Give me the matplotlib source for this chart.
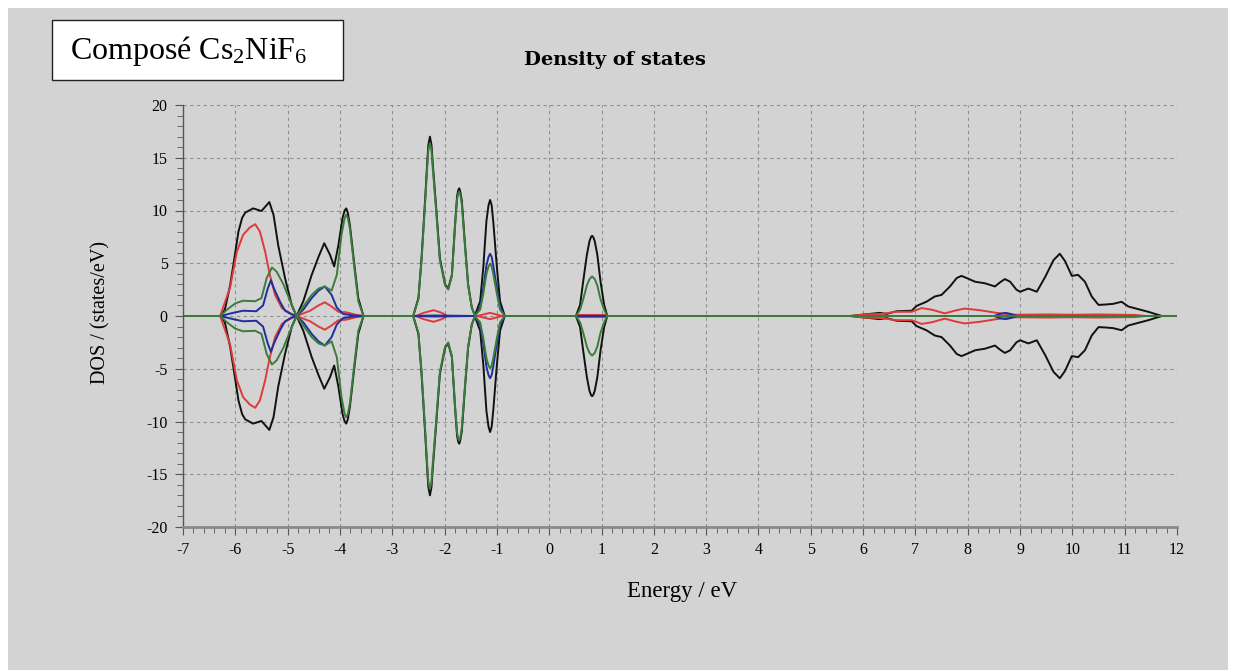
"""Densité d'états de Cs2NiF6 (spin up / spin down)"""
import matplotlib
matplotlib.use("Agg")
import matplotlib.pyplot as plt
import matplotlib.patches as mpatches
from matplotlib.ticker import MultipleLocator
import numpy as np

plt.rcParams["font.family"] = ["Liberation Serif", "DejaVu Serif"]
plt.rcParams["axes.unicode_minus"] = False
plt.rcParams["mathtext.fontset"] = "custom"
plt.rcParams["mathtext.rm"] = "Liberation Serif"
plt.rcParams["mathtext.it"] = "Liberation Serif:italic"
plt.rcParams["mathtext.bf"] = "Liberation Serif:bold"

W, H = 1235, 670

# ============================================================
# Données (spin up ; le spin down est le miroir)
# ============================================================
E_tot = [-7.0, -6.29, -6.20, -6.10, -6.02, -5.94, -5.87, -5.81, -5.66, -5.50, -5.42,
         -5.35, -5.27, -5.18, -5.05, -4.92, -4.83, -4.70, -4.54, -4.41, -4.30, -4.19,
         -4.11, -4.03, -3.95, -3.91, -3.88, -3.85, -3.81, -3.73, -3.65, -3.55, -2.60,
         -2.50, -2.44, -2.37, -2.33, -2.31, -2.28, -2.25, -2.23, -2.16, -2.09, -1.99,
         -1.93, -1.86, -1.80, -1.76, -1.74, -1.72, -1.70, -1.67, -1.61, -1.55, -1.48,
         -1.42, -1.32, -1.26, -1.20, -1.16, -1.13, -1.10, -1.07, -1.00, -0.94, -0.85,
         0.51, 0.59, 0.65, 0.72, 0.77, 0.80, 0.82, 0.84, 0.87, 0.92, 0.98, 1.05, 1.11,
         5.75, 6.13, 6.32, 6.45, 6.64, 6.93, 7.02, 7.21, 7.37, 7.50, 7.66, 7.79, 7.88,
         7.98, 8.14, 8.33, 8.52, 8.62, 8.71, 8.81, 8.93, 9.00, 9.16, 9.32, 9.48, 9.64,
         9.76, 9.86, 9.99, 10.11, 10.24, 10.37, 10.50, 10.66, 10.78, 10.94, 11.07,
         11.26, 11.45, 11.71, 12.0]
dos_tot = [0, 0, 0.6, 2.9, 5.4, 8.0, 9.3, 9.8, 10.2, 9.95, 10.4,
           10.8, 9.6, 6.7, 3.6, 1.0, 0, 1.4, 3.9, 5.6, 6.9, 5.8,
           4.7, 6.7, 9.3, 10.0, 10.2, 9.8, 8.6, 5.1, 1.7, 0, 0,
           1.7, 5.5, 11.2, 14.7, 16.2, 17.0, 16.2, 14.7, 10.2, 5.5, 3.0,
           2.6, 3.9, 8.7, 11.4, 11.9, 12.1, 11.8, 10.9, 6.8, 3.0, 0.8,
           0.05, 1.4, 4.6, 9.0, 10.5, 11.0, 10.5, 9.0, 4.6, 1.4, 0,
           0, 1.05, 3.3, 5.8, 7.1, 7.5, 7.6, 7.5, 7.1, 5.8, 3.3, 1.05, 0,
           0, 0.2, 0.3, 0.2, 0.45, 0.5, 0.95, 1.35, 1.85, 2.0, 2.8, 3.6, 3.8,
           3.6, 3.25, 3.1, 2.8, 3.2, 3.5, 3.25, 2.5, 2.3, 2.6, 2.3, 3.7, 5.3,
           5.9, 5.2, 3.8, 3.9, 3.25, 1.85, 1.05, 1.1, 1.15, 1.35, 0.9,
           0.65, 0.4, 0, 0]

E_red = [-7.0, -6.29, -6.10, -5.97, -5.85, -5.72, -5.62, -5.53, -5.43, -5.34, -5.24,
         -5.11, -4.95, -4.83, -4.57, -4.41, -4.29, -4.16, -4.03, -3.88, -3.68, -3.55,
         -2.55, -2.40, -2.21, -2.05, -1.95, -1.38, -1.13, -0.90, 0.51, 0.55, 1.08,
         1.11, 5.80, 6.00, 6.35, 6.64, 6.93, 7.12, 7.31, 7.56, 7.79, 7.94, 8.23,
         8.55, 8.87, 9.50, 10.0, 10.5, 11.2, 11.4, 12.0]
dos_red = [0, 0, 2.7, 6.1, 7.7, 8.4, 8.7, 8.0, 6.1, 3.9, 2.0,
           0.75, 0.25, 0, 0.5, 1.0, 1.3, 0.9, 0.4, 0.35, 0.1, 0,
           0, 0.3, 0.55, 0.3, 0, 0, 0.3, 0, 0, 0.1, 0.1,
           0, 0, 0.15, 0.2, 0.4, 0.4, 0.75, 0.6, 0.25, 0.55, 0.7, 0.55,
           0.3, 0.12, 0.15, 0.12, 0.15, 0.1, 0, 0]

E_blue = [-7.0, -6.29, -6.04, -5.85, -5.60, -5.47, -5.38, -5.32, -5.26, -5.15, -5.05,
          -4.92, -4.83, -4.70, -4.54, -4.41, -4.29, -4.16, -4.06, -3.94, -3.75, -3.55,
          -2.60, -2.20, -1.42, -1.32, -1.26, -1.20, -1.16, -1.13, -1.10, -1.07, -1.00,
          -0.94, -0.85, 8.50, 8.62, 8.72, 8.82, 8.95, 12.0]
dos_blue = [0, 0, 0.3, 0.5, 0.45, 1.0, 2.6, 3.4, 2.6, 1.4, 0.5,
            0.15, 0, 0.6, 1.7, 2.4, 2.8, 2.0, 0.8, 0.2, 0.05, 0,
            0, 0.05, 0, 0.8, 2.6, 4.8, 5.6, 5.9, 5.6, 4.8, 2.6,
            0.8, 0, 0, 0.2, 0.3, 0.2, 0, 0]

E_green = [-7.0, -6.29, -6.16, -6.00, -5.85, -5.62, -5.50, -5.40, -5.30, -5.21, -5.08,
           -4.95, -4.83, -4.70, -4.54, -4.41, -4.29, -4.16, -4.06, -3.97, -3.91, -3.88,
           -3.85, -3.81, -3.73, -3.65, -3.55, -2.60, -2.50, -2.44, -2.37, -2.33, -2.31,
           -2.28, -2.25, -2.23, -2.16, -2.09, -1.99, -1.93, -1.86, -1.80, -1.76, -1.74,
           -1.72, -1.70, -1.67, -1.61, -1.55, -1.48, -1.42, -1.32, -1.26, -1.20, -1.16,
           -1.13, -1.10, -1.07, -1.00, -0.94, -0.85, 0.51, 0.59, 0.65, 0.72, 0.77, 0.82,
           0.87, 0.92, 0.98, 1.05, 1.11, 12.0]
dos_green = [0, 0, 0.6, 1.2, 1.45, 1.4, 1.7, 3.6, 4.6, 4.2, 3.0,
             1.4, 0, 0.9, 2.0, 2.6, 2.8, 2.4, 3.9, 7.7, 9.3, 9.6,
             9.3, 8.3, 4.8, 1.4, 0, 0, 1.6, 5.3, 10.9, 14.3, 15.7,
             16.4, 15.7, 14.3, 9.9, 5.3, 2.9, 2.5, 3.8, 8.5, 11.1, 11.6,
             11.8, 11.5, 10.6, 6.6, 2.9, 0.8, 0.05, 0.6, 2.1, 4.0, 4.7,
             4.95, 4.7, 4.0, 2.1, 0.6, 0, 0, 0.6, 1.6, 2.9, 3.5, 3.75,
             3.5, 2.9, 1.6, 0.6, 0, 0]

x_ticks = list(range(-7, 13))
y_ticks = list(range(-20, 21, 5))

COLOR_BG = "#d3d3d3"
series = [
    (E_tot, dos_tot, "#111111"),
    (E_red, dos_red, "#dd3a3a"),
    (E_blue, dos_blue, "#1f2f9e"),
    (E_green, dos_green, "#3b7b3b"),
]

# ============================================================
# Figure
# ============================================================
fig = plt.figure(figsize=(W / 100, H / 100), dpi=100, facecolor="white")


def fx(px):
    return px / W


def fy(py):
    return 1 - py / H


# fond gris (derrière tout)
fig.patches.append(mpatches.Rectangle((fx(8), 0), fx(1228) - fx(8), fy(8),
                                      transform=fig.transFigure, facecolor=COLOR_BG,
                                      edgecolor="none", zorder=-10))

ax = fig.add_axes([fx(183), fy(527), fx(1177) - fx(183), fy(105) - fy(527)])
ax.set_facecolor(COLOR_BG)
ax.set_zorder(1)

for e, d, c in series:
    d = np.asarray(d)
    ax.plot(e, d, color=c, linewidth=1.4, solid_joinstyle="round")
    ax.plot(e, -d, color=c, linewidth=1.4, solid_joinstyle="round")

ax.set_xlim(-7, 12)
ax.set_ylim(-20, 20)
ax.set_xticks(x_ticks)
ax.set_yticks(y_ticks)
ax.xaxis.set_minor_locator(MultipleLocator(0.2))
ax.yaxis.set_minor_locator(MultipleLocator(1))
ax.tick_params(which="major", length=6, width=0.8, color="#555555", labelsize=11.5, pad=5)
ax.tick_params(which="minor", length=4, width=0.6, color="#555555")
ax.grid(True, which="major", linestyle=(0, (3, 3)), color="#8f8f8f", linewidth=0.8)

for s in ["top", "right"]:
    ax.spines[s].set_visible(False)
ax.spines["left"].set_color("#555555")
ax.spines["left"].set_linewidth(1.0)
ax.spines["bottom"].set_color("#8a8a8a")
ax.spines["bottom"].set_linewidth(2.0)

# textes
fig.text(fx(615), fy(60), "Density of states", ha="center", va="center",
         fontsize=14, fontweight="bold", family="DejaVu Serif")
fig.text(fx(682), fy(592), "Energy / eV", ha="center", va="center", fontsize=16.5)
fig.text(fx(101), fy(313), "DOS / (states/eV)", ha="center", va="center",
         fontsize=14.5, rotation=90)

# encadré du composé
fig.patches.append(mpatches.Rectangle((fx(52), fy(80)), fx(343) - fx(52), fy(20) - fy(80),
                                      transform=fig.transFigure, facecolor="white",
                                      edgecolor="#222222", linewidth=1.0, zorder=1))
fig.text(fx(70), fy(51), r"Composé Cs$_\mathrm{2}$NiF$_\mathrm{6}$",
         ha="left", va="center", fontsize=23, zorder=2)

plt.savefig("out.png", dpi=100, facecolor="white")
plt.close()
